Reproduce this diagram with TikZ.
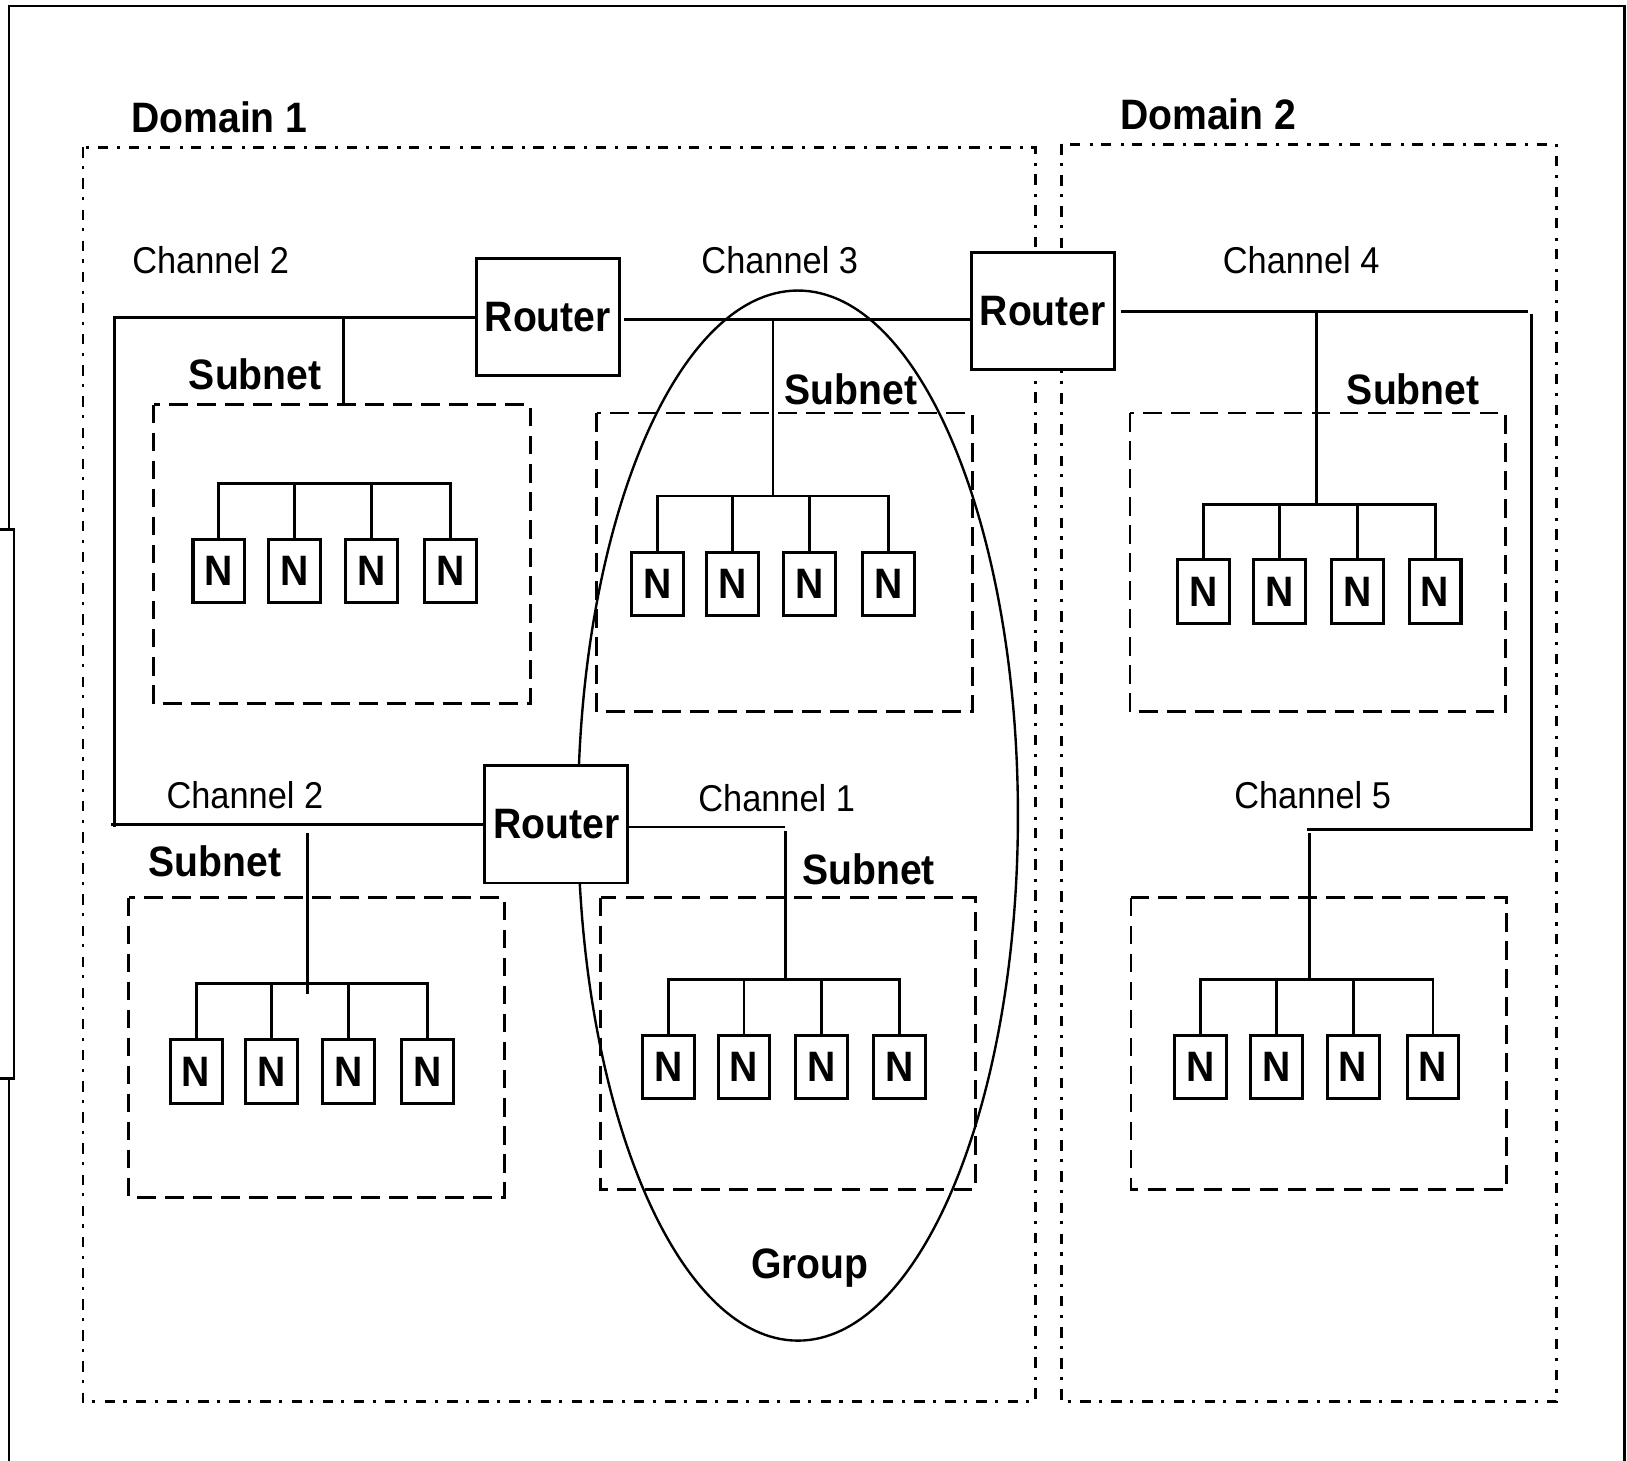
\documentclass[tikz,border=0pt]{standalone}
\usepackage{fontspec}
\setmainfont{Liberation Sans}[FakeStretch=0.92]
\newcommand\myboldfont{\fontsize{41}{45}\selectfont\bfseries}
\newcommand\mychfont{\fontsize{36}{40}\selectfont}
\tikzset{
  ln/.style={line width=2.8pt},
  router/.style={draw, line width=2.8pt, fill=white, minimum width=138pt, minimum height=113pt, inner sep=0pt, font=\myboldfont},
  nbox/.style={draw, line width=2.9pt, fill=white, minimum width=50pt, minimum height=61pt, inner sep=0pt, font=\myboldfont},
  subnetbox/.style={line width=2.8pt, dash pattern=on 18pt off 9pt},
  domainbox/.style={line width=2.8pt, dash pattern=on 10pt off 8pt on 3pt off 9pt},
  blabel/.style={anchor=base, inner sep=0pt, font=\myboldfont},
  clabel/.style={anchor=base, inner sep=0pt, font=\mychfont},
}
% #1 name, #2-#5 x centres of N boxes, #6 centre y of boxes, #7 bus y
\newcommand\netgroup[7]{%
  \coordinate (#1bus) at (0,#7);
  \node[nbox] (#1n1) at (#2,#6) {N};
  \node[nbox] (#1n2) at (#3,#6) {N};
  \node[nbox] (#1n3) at (#4,#6) {N};
  \node[nbox] (#1n4) at (#5,#6) {N};
  \draw[ln] (#1n1.north) |- (#1n4.north |- #1bus) -- (#1n4.north);
  \draw[ln] (#1n2.north) -- (#1n2.north |- #1bus);
  \draw[ln] (#1n3.north) -- (#1n3.north |- #1bus);
}
\begin{document}
\begin{tikzpicture}[x=1pt,y=-1pt]
\useasboundingbox (0,0) rectangle (1568,1408);
% outer frame
\draw[ln] (8.7,510) -- (8.7,5.8) -- (1566,5.8) -- (1566,1440);
\draw[ln] (-5,510) -- (13.5,510) -- (13.5,1039) -- (-5,1039);
\draw[ln] (8.7,1039) -- (8.7,1440);
% domains
\draw[domainbox] (80,142) rectangle (998,1351);
\draw[domainbox] (1023,139) rectangle (1500,1351);
\node[blabel] (dom1) at (211.5,128) {Domain 1};
\node[blabel] (dom2) at (1164.5,125) {Domain 2};
% subnet boxes
\draw[subnetbox] (148,390) rectangle (511,678);
\draw[subnetbox] (575,398) rectangle (937,686);
\draw[subnetbox] (1089,398) rectangle (1451,686);
\draw[subnetbox] (124,865) rectangle (486,1154);
\draw[subnetbox] (579,865) rectangle (940,1146);
\draw[subnetbox] (1090,865) rectangle (1452,1146);
% group
\draw[line width=2.3pt] (769,786) ellipse [x radius=212, y radius=506];
\node[blabel] (grp) at (780.5,1232) {Group};
% routers
\node[router] (R1) at (528,305.5) {Router};
\node[router] (R2) at (1005,300) {Router};
\node[router] (R3) at (536,794.5) {Router};
% node groups
\netgroup{sa}{211}{284}{358}{434}{550.5}{466}
\netgroup{sb}{634}{706}{780}{856}{563}{478}
\netgroup{sc}{1160}{1233}{1308}{1383}{570}{486}
\netgroup{sd}{189}{262}{336}{412}{1032.5}{948}
\netgroup{se}{644}{717}{792}{867}{1028.5}{944}
\netgroup{sf}{1157}{1230}{1304}{1381}{1028.5}{944}
% channel 2 (top and bottom)
\coordinate (c2a) at (110,306);
\coordinate (c2b) at (107,795);
\draw[ln] (R1.west |- c2a) -- (c2a) -- (110,797);
\draw[ln] (c2b) -- (R3.west |- c2b);
\coordinate (t1) at (331,306);
\draw[ln] (t1) -- (331,390);
\coordinate (t4) at (296,803);
\draw[ln] (t4) -- (296,958);
% channel 3
\coordinate (c3a) at (601,308);
\draw[ln] (c3a) -- (R2.west |- c3a);
\coordinate (t2) at (745,308);
\draw[ln] (t2) -- (t2 |- sbbus);
% channel 4
\coordinate (c4a) at (1080,300);
\coordinate (c4b) at (1473,300);
\draw[ln] (c4a) -- (c4b);
\coordinate (t3) at (1269,300);
\draw[ln] (t3) -- (t3 |- scbus);
\coordinate (c4v) at (1476,303);
\coordinate (c5b) at (1476,799);
\draw[ln] (c4v) -- (c5b);
% channel 5
\coordinate (c5a) at (1260,799);
\draw[ln] (c5a) -- (1477.4,799);
\coordinate (t6) at (1262,803);
\draw[ln] (t6) -- (t6 |- sfbus);
% channel 1
\coordinate (c1a) at (757,797);
\draw[ln] (R3.east |- c1a) -- (c1a);
\coordinate (t5) at (757,801);
\draw[ln] (t5) -- (t5 |- sebus);
% channel labels
\node[clabel] (ch2a) at (203,264) {Channel 2};
\node[clabel] (ch3) at (751.5,264) {Channel 3};
\node[clabel] (ch4) at (1254,264) {Channel 4};
\node[clabel] (ch2b) at (236,779) {Channel 2};
\node[clabel] (ch1) at (748.5,782) {Channel 1};
\node[clabel] (ch5) at (1265,779) {Channel 5};
% subnet labels
\node[blabel] (sla) at (246,375) {Subnet};
\node[blabel] (slb) at (820,390) {Subnet};
\node[blabel] (slc) at (1362,390) {Subnet};
\node[blabel] (sld) at (207,845) {Subnet};
\node[blabel] (sle) at (837,852) {Subnet};
\end{tikzpicture}
\end{document}
